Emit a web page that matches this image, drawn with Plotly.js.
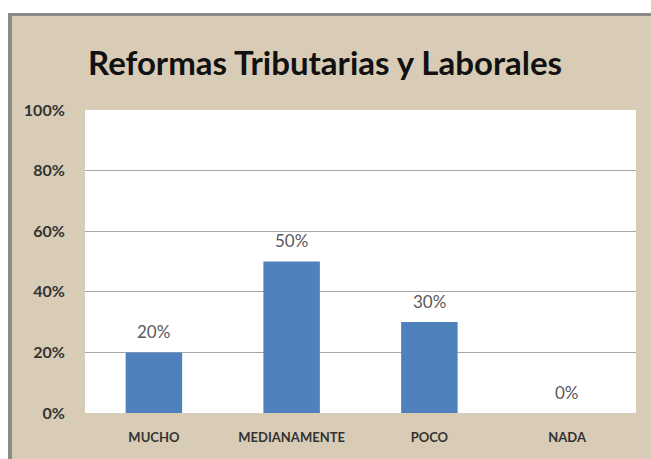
<!DOCTYPE html>
<html>
<head>
<meta charset="utf-8">
<script src="https://cdn.plot.ly/plotly-3.0.1.min.js"></script>
<style>
html,body{margin:0;padding:0;background:#ffffff;width:651px;height:459px;overflow:hidden;}
#frame{position:absolute;left:8px;top:13px;width:643px;height:446px;background:#8a8a8a;}
#chart{position:absolute;left:12px;top:16px;width:639px;height:443px;}
</style>
</head>
<body>
<div id="frame"></div>
<div id="chart"></div>
<script>
var categories = ["MUCHO", "MEDIANAMENTE", "POCO", "NADA"];
var values = [0.20, 0.50, 0.30, 0.00];
var labels = ["20%", "50%", "30%", "0%"];
var yTickVals = [0, 0.2, 0.4, 0.6, 0.8, 1.0];
var yTickText = ["0%", "20%", "40%", "60%", "80%", "100%"];

var trace = {
  type: "bar",
  x: categories,
  y: values,
  marker: {color: "#4F81BD"},
  hoverinfo: "x+y"
};

var annotations = categories.map(function(c, i){
  return {
    x: c, y: values[i], xref: "x", yref: "y",
    text: labels[i], showarrow: false, yshift: 21,
    font: {family: "Lato, 'Open Sans', sans-serif", size: 17, color: "#595959"}
  };
});

var layout = {
  width: 639, height: 443,
  paper_bgcolor: "#d8ccb6",
  plot_bgcolor: "#ffffff",
  margin: {l: 73, r: 15, t: 94, b: 46},
  bargap: 0.59,
  showlegend: false,
  title: {
    text: "<b>Reformas Tributarias y Laborales</b>",
    font: {family: "Lato, 'Open Sans', sans-serif", size: 33, color: "#111111"},
    xref: "container", yref: "container",
    x: 0.119, xanchor: "left",
    y: 0.893, yanchor: "middle"
  },
  xaxis: {
    type: "category",
    showgrid: false, zeroline: false, showline: false,
    ticks: "outside", ticklen: 12, tickcolor: "rgba(0,0,0,0)",
    tickfont: {family: "Lato, 'Open Sans', sans-serif", size: 13, color: "#333333", weight: "bold"}
  },
  yaxis: {
    range: [0, 1],
    tickvals: yTickVals, ticktext: yTickText,
    showgrid: true, gridcolor: "#a6a6a6", gridwidth: 1,
    zeroline: false, showline: false,
    ticks: "outside", ticklen: 16, tickcolor: "rgba(0,0,0,0)",
    tickfont: {family: "Lato, 'Open Sans', sans-serif", size: 16, color: "#333333", weight: "bold"}
  },
  annotations: annotations
};

Plotly.newPlot("chart", [trace], layout, {displayModeBar: false, staticPlot: true});
</script>
</body>
</html>
